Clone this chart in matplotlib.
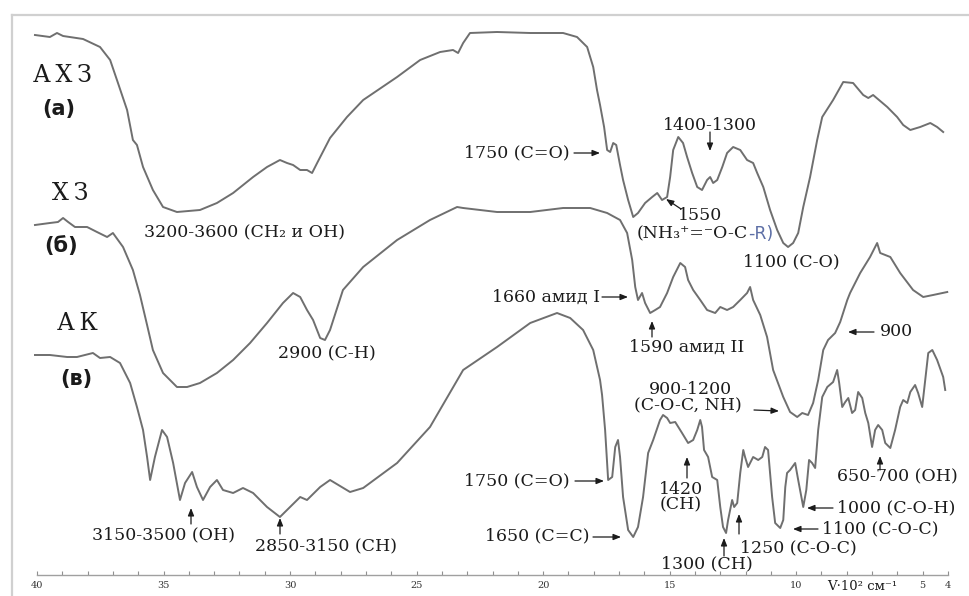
import matplotlib
matplotlib.use("Agg")
import matplotlib.pyplot as plt
from matplotlib.lines import Line2D

# ---------------------------------------------------------------------------
# IR spectra: wavenumber (x 10^2 cm^-1) and relative transmittance (arb. units)
# ---------------------------------------------------------------------------
wn_axz = [40.08, 39.49, 39.21, 38.97, 38.18, 37.51, 37.11, 36.80, 36.44, 36.21,
          36.05, 35.81, 35.42, 35.02, 34.47, 33.56, 32.89, 32.25, 31.46, 30.91,
          30.40, 30.12, 29.88, 29.60, 29.33, 29.13, 28.93, 28.42, 27.75, 27.11,
          25.77, 24.86, 24.07, 23.56, 23.36, 23.16, 22.89, 21.82, 20.51, 19.21,
          18.66, 18.26, 18.02, 17.87, 17.75, 17.59, 17.47, 17.35, 17.23, 17.11,
          16.96, 16.84, 16.64, 16.44, 16.25, 15.97, 15.69, 15.49, 15.30, 15.10,
          14.98, 14.86, 14.66, 14.47, 14.31, 14.11, 13.91, 13.72, 13.52, 13.40,
          13.28, 13.12, 12.92, 12.73, 12.49, 12.21, 11.94, 11.70, 11.54, 11.30,
          11.03, 10.75, 10.51, 10.32, 10.12, 9.92, 9.72, 9.45, 9.17, 8.97,
          8.54, 8.14, 7.75, 7.35, 7.15, 6.96, 6.40, 6.01, 5.77, 5.49,
          5.10, 4.70, 4.43, 4.19]
t_axz = [540, 538, 542, 539, 536, 528, 515, 492, 465, 435,
         430, 408, 385, 368, 363, 365, 372, 382, 398, 408,
         415, 412, 410, 405, 405, 402, 412, 437, 458, 475,
         498, 515, 523, 525, 522, 532, 542, 543, 542, 542,
         538, 528, 508, 485, 470, 448, 425, 423, 432, 430,
         410, 395, 375, 358, 362, 372, 378, 382, 375, 378,
         398, 425, 438, 432, 418, 402, 388, 385, 395, 398,
         392, 395, 408, 422, 428, 425, 415, 412, 402, 388,
         365, 345, 332, 328, 332, 342, 368, 398, 435, 458,
         475, 493, 492, 480, 477, 480, 468, 458, 450, 445,
         448, 452, 448, 443]

wn_xz = [40.08, 39.49, 39.17, 38.97, 38.77, 38.50, 38.02, 37.63, 37.23, 37.00,
         36.60, 36.21, 35.93, 35.65, 35.42, 35.02, 34.47, 34.07, 33.56, 32.89,
         32.25, 31.58, 30.91, 30.28, 29.88, 29.60, 29.33, 29.09, 28.81, 28.62,
         28.42, 27.91, 27.11, 25.77, 24.47, 23.40, 23.16, 21.82, 20.51, 19.21,
         18.14, 17.47, 16.96, 16.68, 16.48, 16.36, 16.25, 16.09, 15.97, 15.77,
         15.57, 15.38, 15.10, 14.86, 14.58, 14.39, 14.27, 14.07, 13.79, 13.52,
         13.20, 13.00, 12.73, 12.49, 12.21, 11.94, 11.82, 11.70, 11.42, 11.15,
         10.91, 10.51, 10.24, 9.96, 9.76, 9.53, 9.33, 9.13, 8.93, 8.74,
         8.46, 8.26, 7.98, 7.87, 7.47, 7.08, 6.80, 6.68, 6.28, 5.89,
         5.38, 4.98, 4.59, 4.03]
t_xz = [350, 352, 353, 357, 353, 348, 348, 343, 338, 342,
        328, 305, 280, 250, 225, 202, 188, 188, 192, 202,
        215, 232, 252, 272, 282, 278, 265, 255, 237, 235,
        245, 285, 308, 335, 355, 368, 367, 363, 363, 367,
        367, 362, 355, 342, 315, 288, 275, 282, 272, 262,
        265, 268, 282, 298, 312, 308, 295, 285, 275, 265,
        262, 268, 265, 268, 275, 282, 288, 275, 260, 238,
        205, 178, 163, 158, 162, 160, 172, 195, 225, 235,
        242, 253, 275, 282, 302, 318, 332, 322, 318, 302,
        285, 278, 280, 283]

wn_ak = [40.08, 39.49, 38.81, 38.42, 37.79, 37.51, 37.11, 36.72, 36.32, 36.05,
         35.81, 35.65, 35.53, 35.34, 35.06, 34.86, 34.62, 34.35, 34.15, 33.87,
         33.68, 33.44, 33.16, 32.89, 32.65, 32.25, 31.86, 31.46, 30.91, 30.40,
         30.00, 29.60, 29.33, 28.81, 28.42, 27.63, 27.11, 25.77, 24.47, 23.16,
         21.82, 20.51, 19.45, 18.93, 18.42, 18.02, 17.75, 17.67, 17.55, 17.43,
         17.27, 17.15, 17.04, 16.96, 16.84, 16.64, 16.44, 16.25, 16.05, 15.85,
         15.65, 15.38, 15.26, 15.10, 14.98, 14.78, 14.51, 14.27, 14.07, 13.91,
         13.79, 13.72, 13.64, 13.48, 13.32, 13.12, 13.00, 12.89, 12.77, 12.69,
         12.53, 12.45, 12.33, 12.21, 12.09, 12.02, 11.90, 11.82, 11.70, 11.50,
         11.34, 11.23, 11.11, 10.95, 10.83, 10.63, 10.51, 10.43, 10.36, 10.24,
         10.04, 9.92, 9.72, 9.60, 9.49, 9.37, 9.25, 9.13, 8.97, 8.77,
         8.54, 8.38, 8.30, 8.18, 8.06, 7.94, 7.79, 7.67, 7.55, 7.39,
         7.27, 7.15, 7.00, 6.88, 6.76, 6.60, 6.48, 6.28, 6.09, 5.89,
         5.77, 5.61, 5.49, 5.30, 5.18, 5.02, 4.90, 4.78, 4.62, 4.43,
         4.19, 4.11]
t_ak = [220, 220, 218, 218, 222, 217, 218, 212, 192, 168,
        145, 118, 95, 118, 145, 138, 112, 75, 92, 103,
        88, 75, 88, 95, 85, 82, 87, 82, 68, 58,
        68, 78, 75, 88, 95, 83, 87, 112, 148, 205,
        228, 252, 262, 257, 245, 225, 195, 180, 145, 95,
        98, 128, 135, 118, 78, 45, 38, 48, 78, 122,
        135, 155, 160, 157, 152, 153, 142, 132, 135, 145,
        155, 148, 125, 118, 98, 95, 68, 48, 42, 55,
        75, 68, 72, 102, 125, 118, 108, 112, 118, 115,
        118, 128, 125, 78, 52, 47, 55, 88, 102, 105,
        112, 95, 68, 85, 115, 112, 107, 145, 178, 188,
        193, 205, 192, 168, 173, 177, 162, 165, 183, 177,
        162, 152, 128, 145, 150, 145, 132, 127, 145, 168,
        175, 172, 183, 190, 182, 168, 195, 222, 225, 215,
        198, 185]

major_ticks = [40, 35, 30, 25, 20, 15, 10, 5, 4]
tick_labels = ["40", "35", "30", "25", "20", "15", "10", "5", "4"]

# ---------------------------------------------------------------------------
W, H = 970, 596
SERIF = ["DejaVu Serif", "DejaVu Sans"]
INK = "#1b1b1b"
LINE = "#6f6f6f"

fig = plt.figure(figsize=(W / 100, H / 100), dpi=100)
fig.patch.set_facecolor("white")

ax = fig.add_axes([37 / W, 21 / H, 911 / W, 560 / H])
ax.set_xlim(40, 4)
ax.set_ylim(0, 560)
ax.patch.set_alpha(0)

for wn, t in ((wn_axz, t_axz), (wn_xz, t_xz), (wn_ak, t_ak)):
    ax.plot(wn, t, color=LINE, lw=1.4, clip_on=False, solid_joinstyle="round")

for side in ("left", "right", "top"):
    ax.spines[side].set_visible(False)
ax.spines["bottom"].set_color("#a0a0a0")
ax.spines["bottom"].set_linewidth(1.0)
ax.set_yticks([])
ax.set_xticks(major_ticks)
ax.set_xticklabels(tick_labels)
ax.set_xticks(range(4, 41), minor=True)
ax.tick_params(axis="x", which="both", direction="in", length=3, width=0.8,
               color="#909090", labelsize=7, labelcolor="#333333", pad=4)
for lbl in ax.get_xticklabels():
    lbl.set_fontfamily(SERIF)

# outer frame (left and top edges)
fig.add_artist(Line2D([12 / W, 12 / W], [0, 1 - 15 / H], transform=fig.transFigure,
                      color="#d0d0d0", lw=1.6))
fig.add_artist(Line2D([12 / W, 1], [1 - 15 / H, 1 - 15 / H], transform=fig.transFigure,
                      color="#d0d0d0", lw=1.6))


def P(x, y):
    return (x / W, 1 - y / H)


def label(x, y, s, ha="center", size=12.5, **kw):
    kw.setdefault("family", SERIF)
    kw.setdefault("color", INK)
    fig.text(*P(x, y), s, ha=ha, va="center", fontsize=size, **kw)


def arrow(x0, y0, x1, y1):
    ax.annotate("", xy=P(x1, y1), xycoords="figure fraction",
                xytext=P(x0, y0), textcoords="figure fraction",
                arrowprops=dict(arrowstyle="-|>,head_length=0.45,head_width=0.18",
                                lw=0.9, color=INK, shrinkA=0, shrinkB=0))


# sample names
label(62, 75, "А\u2009Х\u2009З", size=17)
label(59, 109, "(а)", size=15, family="DejaVu Sans", weight="bold")
label(70, 193, "Х\u2009З", size=17)
label(61, 246, "(б)", size=15, family="DejaVu Sans", weight="bold")
label(77, 324, "А\u2009К", size=17)
label(76, 379, "(в)", size=15, family="DejaVu Sans", weight="bold")

# band assignments, spectrum (a)
label(245, 233, "3200-3600 (CH₂ и OH)")
label(570, 153, "1750 (C=O)", ha="right")
arrow(574, 153, 600, 153)
label(710, 125, "1400-1300")
arrow(710, 132, 710, 151)
label(678, 215, "1550", ha="left")
arrow(681, 209, 666, 199)
label(748, 234, "(NH₃⁺=⁻O-C", ha="right")
label(748, 234, "-R)", ha="left", color="#5d6fa6", family=["DejaVu Sans"])
label(791, 262, "1100 (C-O)")

# spectrum (б)
label(327, 354, "2900 (C-H)")
label(600, 297, "1660 амид I", ha="right")
arrow(602, 297, 628, 297)
label(687, 347, "1590 амид II")
arrow(652, 337, 652, 321)
label(880, 332, "900", ha="left")
arrow(874, 332, 848, 332)
label(690, 390, "900-1200")
label(688, 406, "(C-O-C, NH)")
arrow(754, 410, 779, 411)

# spectrum (в)
label(570, 481, "1750 (C=O)", ha="right")
arrow(575, 481, 604, 481)
label(590, 536, "1650 (C=C)", ha="right")
arrow(593, 537, 621, 537)
label(681, 489, "1420")
label(681, 505, "(CH)")
arrow(687, 478, 687, 457)
label(707, 564, "1300 (CH)")
arrow(724, 556, 724, 538)
label(740, 548, "1250 (C-O-C)", ha="left")
arrow(739, 534, 739, 514)
label(837, 508, "1000 (C-O-H)", ha="left")
arrow(833, 508, 807, 508)
label(822, 529, "1100 (C-O-C)", ha="left")
arrow(818, 529, 793, 529)
label(837, 477, "650-700 (OH)", ha="left")
arrow(880, 470, 880, 456)
label(164, 535, "3150-3500 (OH)")
arrow(191, 524, 191, 508)
label(255, 546, "2850-3150 (CH)", ha="left")
arrow(280, 534, 280, 518)

# axis title
fig.text(*P(862, 580), "V·10² см⁻¹", ha="center", va="top", fontsize=9.5,
         family=SERIF, color=INK)

fig.savefig("out.png", dpi=100, facecolor="white")
